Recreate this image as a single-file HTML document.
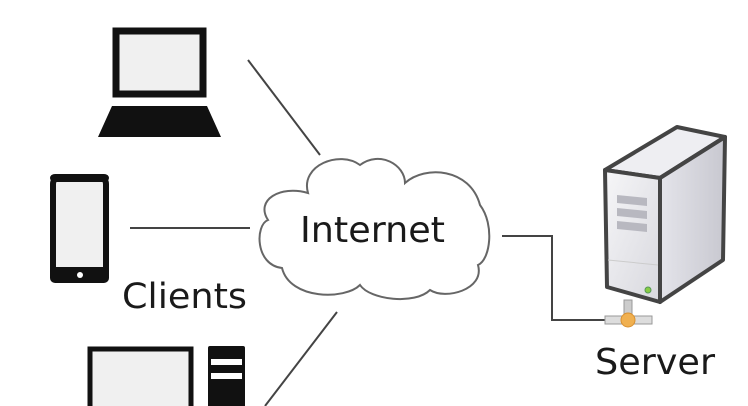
<!DOCTYPE html>
<html><head><style>
html,body{margin:0;padding:0;background:#fff;}
svg{display:block;}
text{font-family:"DejaVu Sans","Liberation Sans",sans-serif;fill:#1a1a1a;}
</style></head><body>
<svg width="748" height="406" viewBox="0 0 748 406" xmlns="http://www.w3.org/2000/svg">
<defs>
<linearGradient id="fr" x1="0" y1="0" x2="1" y2="1"><stop offset="0" stop-color="#f6f6f8"/><stop offset="1" stop-color="#d8d8de"/></linearGradient>
<linearGradient id="sd" x1="0" y1="0" x2="1" y2="0"><stop offset="0" stop-color="#e4e4ea"/><stop offset="1" stop-color="#c8c8d0"/></linearGradient>
</defs>
<g stroke="#444" stroke-width="2" fill="none">
<line x1="248" y1="60" x2="320" y2="155"/>
<line x1="130" y1="228" x2="250" y2="228"/>
<line x1="337" y1="312" x2="265" y2="406"/>
<polyline points="502,236 552,236 552,320 606,320"/>
</g>
<rect x="116" y="31" width="87" height="63" fill="#f0f0f0" stroke="#111" stroke-width="7"/>
<polygon points="112,106 207,106 221,137 98,137" fill="#111"/>
<rect x="53" y="177" width="53" height="103" rx="7" fill="#f0f0f0" stroke="#111" stroke-width="6"/>
<rect x="50" y="267" width="59" height="16" rx="5" fill="#111"/>
<rect x="50" y="174" width="59" height="8" rx="5" fill="#111"/>
<circle cx="80" cy="275" r="3" fill="#fff"/>
<rect x="90" y="349" width="101" height="70" fill="#f0f0f0" stroke="#111" stroke-width="5"/>
<rect x="208" y="346" width="37" height="70" rx="2" fill="#111"/>
<rect x="211" y="359" width="31" height="6" fill="#fff"/>
<rect x="211" y="373" width="31" height="6" fill="#fff"/>
<path d="M308,193 C300,165 340,150 360,165 C380,150 405,165 405,183 C425,165 470,168 480,205 C495,225 490,260 478,265 C485,290 445,300 430,290 C415,305 370,300 360,285 C345,300 290,300 282,268 C255,265 255,225 268,220 C255,200 280,185 308,193 Z" fill="#fff" stroke="#666" stroke-width="2"/>
<text x="300" y="242" font-size="36" textLength="145" lengthAdjust="spacingAndGlyphs">Internet</text>
<text x="122" y="308" font-size="35" textLength="125" lengthAdjust="spacingAndGlyphs">Clients</text>
<polygon points="605,170 677,127 725,137 660,178" fill="#eeeef2" stroke="#444" stroke-width="4" stroke-linejoin="round"/>
<polygon points="660,178 725,137 723,260 660,302" fill="url(#sd)" stroke="#444" stroke-width="4" stroke-linejoin="round"/>
<polygon points="605,170 660,178 660,302 607,287" fill="url(#fr)" stroke="#444" stroke-width="4" stroke-linejoin="round"/>
<g fill="#b8b8c0"><polygon points="617,195 647,198 647,206 617,203"/><polygon points="617,208 647,211 647,219 617,216"/><polygon points="617,221 647,224 647,232 617,229"/></g>
<line x1="608" y1="260" x2="658" y2="265" stroke="#ccc" stroke-width="1"/>
<circle cx="648" cy="290" r="3" fill="#8c4" stroke="#595" stroke-width="1"/>
<rect x="624" y="300" width="8" height="16" fill="#ccc" stroke="#999"/>
<rect x="605" y="316" width="47" height="8" fill="#ddd" stroke="#999"/>
<circle cx="628" cy="320" r="7" fill="#f0b050" stroke="#d89030"/>
<text x="595" y="374" font-size="36" textLength="120" lengthAdjust="spacingAndGlyphs">Server</text>
</svg>
</body></html>
